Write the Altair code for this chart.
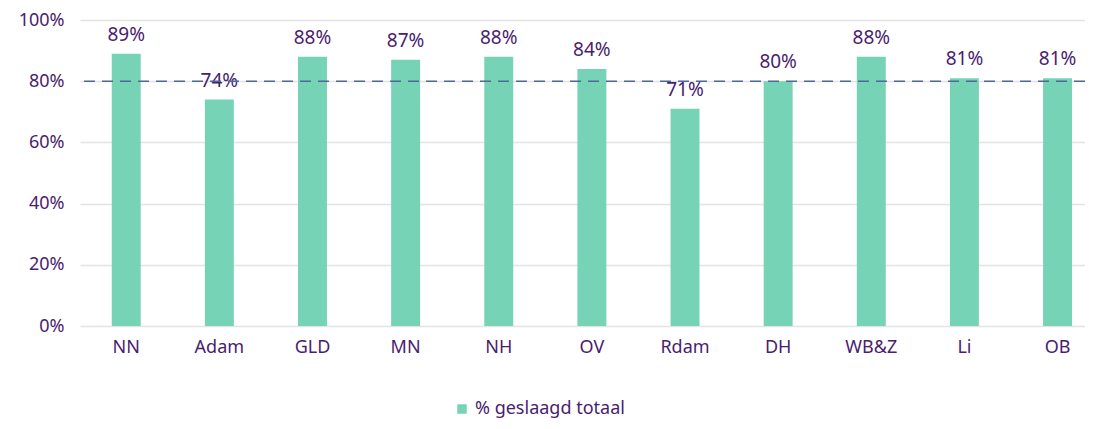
import altair as alt
import pandas as pd

categories = ["NN", "Adam", "GLD", "MN", "NH", "OV", "Rdam", "DH", "WB&Z", "Li", "OB"]
values = [89, 74, 88, 87, 88, 84, 71, 80, 88, 81, 81]
series_name = "% geslaagd totaal"
target = 80

df = pd.DataFrame({
    "cat": categories,
    "val": [v / 100 for v in values],
    "label": [f"{v}%" for v in values],
    "series": [series_name] * len(categories),
})

FONT = "Noto Sans"
TXT = "#4A1D6E"
BAR = "#76D3B6"

x = alt.X("cat:N", sort=categories, title=None,
          scale=alt.Scale(paddingInner=0.689, paddingOuter=0.24, align=0.71),
          axis=alt.Axis(labelAngle=0, labelFont=FONT, labelFontSize=18, labelColor=TXT,
                        ticks=False, domain=False, labelPadding=12))
y = alt.Y("val:Q", title=None,
          scale=alt.Scale(domain=[0, 1], nice=False),
          axis=alt.Axis(format=".0%", values=[0, 0.2, 0.4, 0.6, 0.8, 1.0],
                        labelFont=FONT, labelFontSize=18, labelColor=TXT,
                        ticks=False, domain=False, labelPadding=16,
                        grid=True, gridColor="#E3E3E3", gridWidth=1.5))

bars = alt.Chart(df).mark_bar(color=BAR).encode(
    x=x, y=y,
    color=alt.Color("series:N", scale=alt.Scale(range=[BAR]),
                    legend=alt.Legend(title=None, orient="none", legendX=373, legendY=380,
                                      symbolType="square", symbolSize=90, symbolStrokeWidth=0,
                                      labelFont=FONT, labelFontSize=18, labelColor=TXT,
                                      labelOffset=4)),
)

text = alt.Chart(df).mark_text(font=FONT, fontSize=19, color=TXT, baseline="bottom", dy=-9).encode(
    x=alt.X("cat:N", sort=categories), y="val:Q", text="label:N"
)

rule = alt.Chart(pd.DataFrame({"t": [target / 100]})).mark_rule(
    color="#4D6899", strokeWidth=1.5, strokeDash=[11, 7]
).encode(y="t:Q")

chart = alt.layer(bars, text, rule).properties(
    width=1005, height=306,
    autosize=alt.AutoSizeParams(type="none"),
    padding={"left": 72, "top": 12, "right": 0, "bottom": 95},
).configure_view(stroke=None)

chart.save("out.html", embed_options={"renderer": "svg", "actions": False})
